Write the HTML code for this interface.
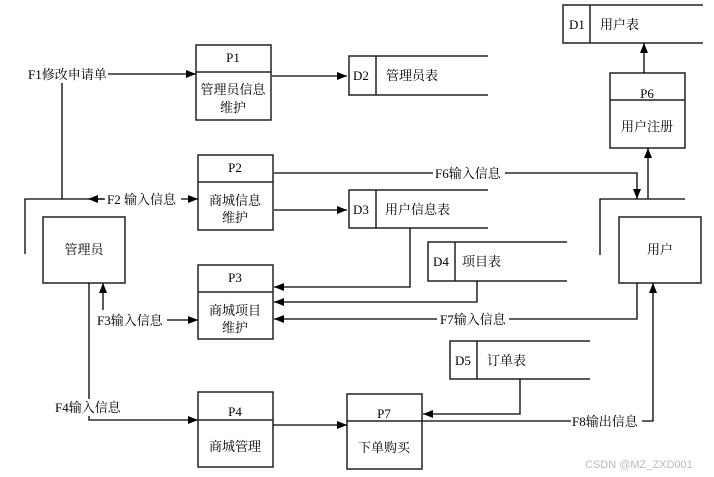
<!DOCTYPE html>
<html><head><meta charset="utf-8"><style>
html,body{margin:0;padding:0;background:#fff;}
svg{display:block;}
text{font-family:"Liberation Serif","Noto Serif CJK SC","Noto Sans CJK SC",serif;font-size:13px;fill:#000;}
</style></head><body>
<svg width="714" height="477" viewBox="0 0 714 477" xmlns="http://www.w3.org/2000/svg">
<defs>
<marker id="a" markerWidth="10" markerHeight="8" refX="10" refY="4" orient="auto" markerUnits="userSpaceOnUse">
<path d="M0,0 L10,4 L0,8 z" fill="#000"/></marker>
</defs>
<g stroke="#222" stroke-width="1.5" fill="#fff">
<!-- processes -->
<rect x="196" y="45" width="75" height="75"/><line x1="196" y1="72" x2="271" y2="72"/>
<rect x="198" y="155" width="75" height="75"/><line x1="198" y1="182" x2="273" y2="182"/>
<rect x="198" y="265" width="75" height="74"/><line x1="198" y1="292" x2="273" y2="292"/>
<rect x="198" y="392" width="75" height="75"/><line x1="198" y1="420" x2="273" y2="420"/>
<rect x="347" y="394" width="75" height="75"/><line x1="347" y1="421" x2="422" y2="421"/>
<rect x="610" y="73" width="75" height="75"/><line x1="610" y1="100" x2="685" y2="100"/>
<!-- entities -->
<rect x="43" y="217" width="82" height="66"/>
<rect x="619" y="217" width="82" height="66"/>
<!-- data stores -->
<path d="M488,56 H349 V95 H488 M376,56 V95" fill="none"/>
<path d="M488,190 H349 V228 H488 M376,190 V228" fill="none"/>
<path d="M567,242 H428 V281 H567 M455,242 V281" fill="none"/>
<path d="M590,341 H450 V379 H590 M477,341 V379" fill="none"/>
<path d="M703,5 H563 V43 H703 M590,5 V43" fill="none"/>
</g>
<g stroke="#000" stroke-width="1.3" fill="none">
<!-- brackets -->
<path d="M25,254 V199 H122"/>
<path d="M600,255 V199 H685"/>
<!-- F1 -->
<line x1="62" y1="199" x2="62" y2="83"/>
<line x1="108" y1="74" x2="196" y2="74" marker-end="url(#a)"/>
<line x1="272" y1="76" x2="347" y2="76" marker-end="url(#a)"/>
<!-- F2 -->
<line x1="104" y1="199" x2="88" y2="199" marker-end="url(#a)"/>
<line x1="180" y1="199" x2="198" y2="199" marker-end="url(#a)"/>
<line x1="274" y1="210" x2="347" y2="210" marker-end="url(#a)"/>
<!-- F6 -->
<path d="M274,173 H637 V199" marker-end="url(#a)"/>
<line x1="648" y1="199" x2="648" y2="148" marker-end="url(#a)"/>
<line x1="644" y1="73" x2="644" y2="43" marker-end="url(#a)"/>
<!-- D3 to P3 -->
<path d="M410,228 V287 H274" marker-end="url(#a)"/>
<path d="M477,281 V302 H274" marker-end="url(#a)"/>
<path d="M637,283 V319 H274" marker-end="url(#a)"/>
<!-- F3 -->
<line x1="103" y1="310" x2="103" y2="283" marker-end="url(#a)"/>
<line x1="167" y1="320" x2="198" y2="320" marker-end="url(#a)"/>
<!-- F4 -->
<path d="M89,283 V420 H198" marker-end="url(#a)"/>
<line x1="273" y1="425" x2="347" y2="425" marker-end="url(#a)"/>
<!-- D5 -->
<path d="M520,379 V414 H423" marker-end="url(#a)"/>
<!-- F8 -->
<path d="M422,421 H653 V283" marker-end="url(#a)"/>
</g>
<!-- label backgrounds -->
<g fill="#fff">
<rect x="28" y="66" width="80" height="17"/>
<rect x="105" y="191" width="76" height="17"/>
<rect x="433" y="165" width="72" height="17"/>
<rect x="96" y="311" width="71" height="17"/>
<rect x="437" y="311" width="72" height="17"/>
<rect x="53" y="399" width="71" height="17"/>
<rect x="571" y="413" width="71" height="17"/>
</g>
<g>
<text x="28" y="79">F1修改申请单</text>
<text x="107" y="204">F2 输入信息</text>
<text x="435" y="178">F6输入信息</text>
<text x="97" y="325">F3输入信息</text>
<text x="440" y="324">F7输入信息</text>
<text x="55" y="412">F4输入信息</text>
<text x="572" y="426">F8输出信息</text>
</g>
<g text-anchor="middle">
<text x="233" y="62">P1</text><text x="233" y="94">管理员信息</text><text x="233" y="112">维护</text>
<text x="235" y="172">P2</text><text x="235" y="205">商城信息</text><text x="235" y="222">维护</text>
<text x="235" y="282">P3</text><text x="235" y="315">商城项目</text><text x="235" y="332">维护</text>
<text x="235" y="416">P4</text><text x="235" y="451">商城管理</text>
<text x="384" y="418">P7</text><text x="384" y="452">下单购买</text>
<text x="647" y="98">P6</text><text x="647" y="131">用户注册</text>
<text x="84" y="254">管理员</text>
<text x="660" y="254">用户</text>
</g>
<g>
<text x="353" y="80">D2</text><text x="386" y="80">管理员表</text>
<text x="353" y="214">D3</text><text x="385" y="214">用户信息表</text>
<text x="433" y="266">D4</text><text x="462" y="266">项目表</text>
<text x="455" y="365">D5</text><text x="487" y="365">订单表</text>
<text x="569" y="29">D1</text><text x="600" y="29">用户表</text>
</g>
<text x="585" y="468" style="font-family:'Liberation Sans',sans-serif;font-size:11px;fill:#bbb">CSDN @MZ_ZXD001</text>
</svg>
</body></html>
